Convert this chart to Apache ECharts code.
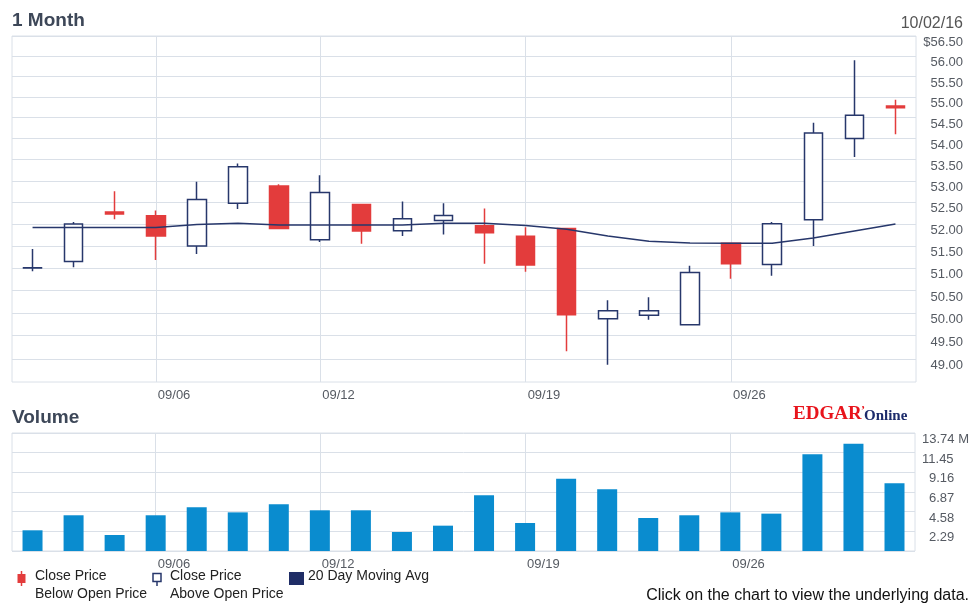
<!DOCTYPE html>
<html>
<head>
<meta charset="utf-8">
<title>1 Month</title>
<script src="https://cdn.jsdelivr.net/npm/echarts@6/dist/echarts.min.js"></script>
<style>
  html, body { margin: 0; padding: 0; background: #fff; }
  #chart { width: 972px; height: 606px; }
</style>
</head>
<body>
<div id="chart"></div>
<script>
// trading days shown on the chart
var dates = ['08/31', '09/01', '09/02', '09/06', '09/07', '09/08', '09/09', '09/12', '09/13', '09/14', '09/15',
  '09/16', '09/19', '09/20', '09/21', '09/22', '09/23', '09/26', '09/27', '09/28', '09/29', '09/30']
// dates that get a label and a vertical grid line
var gridDates = ['09/06', '09/12', '09/19', '09/26']

// prices (USD)
var openPrice = [51.00, 51.15, 52.28, 52.19, 51.50, 52.48, 52.88, 51.64, 52.45, 51.85, 52.08,
  51.96, 51.72, 51.90, 49.87, 49.95, 49.74, 51.56, 51.08, 52.10, 54.00, 54.78]
var closePrice = [51.01, 52.00, 52.23, 51.73, 52.57, 53.33, 51.90, 52.73, 51.84, 52.12, 52.20,
  51.80, 51.07, 49.96, 50.05, 50.05, 50.90, 51.10, 52.01, 54.13, 54.56, 54.74]
var lowPrice = [50.93, 51.02, 52.11, 51.18, 51.32, 52.35, 51.88, 51.59, 51.55, 51.73, 51.76,
  51.10, 50.92, 49.16, 48.87, 49.85, 49.74, 50.76, 50.83, 51.50, 53.56, 54.10]
var highPrice = [51.43, 52.05, 52.76, 52.31, 52.98, 53.41, 52.92, 53.13, 52.45, 52.52, 52.48,
  52.36, 51.93, 51.90, 50.28, 50.35, 51.05, 51.56, 52.05, 54.38, 55.90, 54.93]
// 20 day moving average
var movingAvg = [51.92, 51.92, 51.92, 51.92, 51.99, 52.02, 51.98, 51.98, 51.98, 51.98, 52.02,
  52.02, 51.97, 51.88, 51.73, 51.61, 51.57, 51.56, 51.56, 51.68, 51.84, 52.00]
// volume, millions
var volume = [2.41, 4.16, 1.86, 4.16, 5.09, 4.50, 5.44, 4.74, 4.74, 2.21, 2.95,
  6.48, 3.26, 8.42, 7.18, 3.84, 4.16, 4.50, 4.35, 11.26, 12.50, 7.88]

// axis ticks
var priceTicks = [49.00, 49.50, 50.00, 50.50, 51.00, 51.50, 52.00, 52.50, 53.00, 53.50,
  54.00, 54.50, 55.00, 55.50, 56.00, 56.50]
var priceMin = 48.5
var priceMax = 56.5
var volMax = 13.74
var volStep = 2.29

var FONT = 'Liberation Sans, Arial, sans-serif'
var GRID_COLOR = '#dae0e8'
var NAVY = '#27376b'
var RED = '#e33c3c'
var LABEL_COLOR = '#555a62'

var candles = []
for (var i = 0; i < dates.length; i++) {
  candles.push([openPrice[i], closePrice[i], lowPrice[i], highPrice[i]])
}

function showGridDate (index, value) {
  return gridDates.indexOf(value) >= 0
}

function dateAxis (gridIndex, margin) {
  return {
    type: 'category',
    gridIndex: gridIndex,
    data: dates,
    boundaryGap: true,
    axisLine: { show: false },
    axisTick: { show: false },
    splitLine: { show: false },
    axisLabel: {
      interval: showGridDate,
      align: 'left',
      margin: margin,
      color: LABEL_COLOR,
      fontFamily: FONT,
      fontSize: 13,
      padding: [0, 0, 0, 2]
    }
  }
}

// vertical grid lines at the labelled dates, kept under the marks
function dateLines (xIndex, yIndex) {
  return {
    type: 'line',
    xAxisIndex: xIndex,
    yAxisIndex: yIndex,
    data: [],
    z: 0,
    silent: true,
    markLine: {
      silent: true,
      z: 0,
      symbol: ['none', 'none'],
      label: { show: false },
      lineStyle: { color: GRID_COLOR, width: 1, type: 'solid' },
      data: gridDates.map(function (d) { return { xAxis: d } })
    }
  }
}

var myChart = echarts.init(document.getElementById('chart'), null, { renderer: 'canvas' })

var option = {
  animation: false,
  backgroundColor: '#fff',
  grid: [
    { left: 12, right: 56, top: 36, height: 346, show: true, borderColor: GRID_COLOR, borderWidth: 1 },
    { left: 12, right: 56, top: 433, height: 118, show: true, borderColor: GRID_COLOR, borderWidth: 1 }
  ],
  xAxis: [dateAxis(0, 7), dateAxis(1, 7)],
  yAxis: [
    {
      type: 'log',
      gridIndex: 0,
      position: 'right',
      min: priceMin,
      max: priceMax,
      axisLine: { show: false },
      axisTick: { show: false, customValues: priceTicks },
      splitLine: { show: true, lineStyle: { color: GRID_COLOR, width: 1 } },
      axisLabel: {
        customValues: priceTicks,
        align: 'right',
        verticalAlign: 'top',
        margin: 47,
        color: LABEL_COLOR,
        fontFamily: FONT,
        fontSize: 13,
        formatter: function (v) {
          return (v >= priceMax ? '$' : '') + Number(v).toFixed(2)
        }
      }
    },
    {
      type: 'value',
      gridIndex: 1,
      position: 'right',
      min: 0,
      max: volMax,
      interval: volStep,
      axisLine: { show: false },
      axisTick: { show: false },
      splitLine: { show: true, lineStyle: { color: GRID_COLOR, width: 1 } },
      axisLabel: {
        align: 'left',
        verticalAlign: 'top',
        margin: 7,
        color: LABEL_COLOR,
        fontFamily: FONT,
        fontSize: 13,
        formatter: function (v) {
          if (v === 0) return ''
          if (v >= volMax - 0.001) return volMax.toFixed(2) + ' M'
          if (v < 10) return '{s|' + v.toFixed(2) + '}'
          return v.toFixed(2)
        },
        rich: {
          s: { padding: [0, 0, 0, 7], color: LABEL_COLOR, fontFamily: FONT, fontSize: 13 }
        }
      }
    }
  ],
  series: [
    dateLines(0, 0),
    {
      name: 'Price',
      type: 'candlestick',
      xAxisIndex: 0,
      yAxisIndex: 0,
      z: 2,
      barWidth: 19,
      data: candles,
      itemStyle: {
        color: '#fff',
        color0: RED,
        borderColor: NAVY,
        borderColor0: RED,
        borderWidth: 1.5
      }
    },
    {
      name: '20 Day Moving Avg',
      type: 'line',
      xAxisIndex: 0,
      yAxisIndex: 0,
      z: 3,
      symbol: 'none',
      data: movingAvg,
      lineStyle: { color: NAVY, width: 1.5 }
    },
    dateLines(1, 1),
    {
      name: 'Volume',
      type: 'bar',
      xAxisIndex: 1,
      yAxisIndex: 1,
      z: 2,
      barWidth: 20,
      data: volume,
      itemStyle: { color: '#0a8ccf' }
    }
  ],
  graphic: [
    { type: 'text', left: 12, top: 11, style: { text: '1 Month', font: 'bold 19px ' + FONT, fill: '#3d4758' } },
    { type: 'text', right: 9, top: 16, style: { text: '10/02/16', font: '16px ' + FONT, fill: '#555' } },
    { type: 'text', left: 12, top: 408, style: { text: 'Volume', font: 'bold 19px ' + FONT, fill: '#3d4758' } },
    // logo
    { type: 'text', left: 793, top: 405, style: { text: 'EDGAR', font: 'bold 19px Liberation Serif, serif', fill: '#e8141c' } },
    { type: 'text', left: 861, top: 405, style: { text: '\u2019', font: 'bold 12px Liberation Serif, serif', fill: '#e8141c' } },
    { type: 'text', left: 864, top: 409, style: { text: 'Online', font: 'bold 15px Liberation Serif, serif', fill: '#1c2b6b' } },
    // legend
    { type: 'line', shape: { x1: 21.5, y1: 571, x2: 21.5, y2: 586 }, style: { stroke: RED, lineWidth: 1.5 } },
    { type: 'rect', shape: { x: 17.5, y: 574, width: 8, height: 9 }, style: { fill: RED } },
    { type: 'text', left: 35, top: 569, style: { text: 'Close Price', font: '14px ' + FONT, fill: '#222' } },
    { type: 'text', left: 35, top: 587, style: { text: 'Below Open Price', font: '14px ' + FONT, fill: '#222' } },
    { type: 'line', shape: { x1: 157, y1: 581, x2: 157, y2: 586 }, style: { stroke: NAVY, lineWidth: 1.5 } },
    { type: 'rect', shape: { x: 153, y: 573.5, width: 8, height: 8 }, style: { fill: '#fff', stroke: NAVY, lineWidth: 1.5 } },
    { type: 'text', left: 170, top: 569, style: { text: 'Close Price', font: '14px ' + FONT, fill: '#222' } },
    { type: 'text', left: 170, top: 587, style: { text: 'Above Open Price', font: '14px ' + FONT, fill: '#222' } },
    { type: 'rect', shape: { x: 289, y: 572, width: 15, height: 13 }, style: { fill: '#1f2d66' } },
    { type: 'text', left: 308, top: 569, style: { text: '20 Day Moving Avg', font: '14px ' + FONT, fill: '#222' } },
    { type: 'text', right: 3, top: 588, style: { text: 'Click on the chart to view the underlying data.', font: '16px ' + FONT, fill: '#111' } }
  ]
}

myChart.setOption(option)
</script>
</body>
</html>
